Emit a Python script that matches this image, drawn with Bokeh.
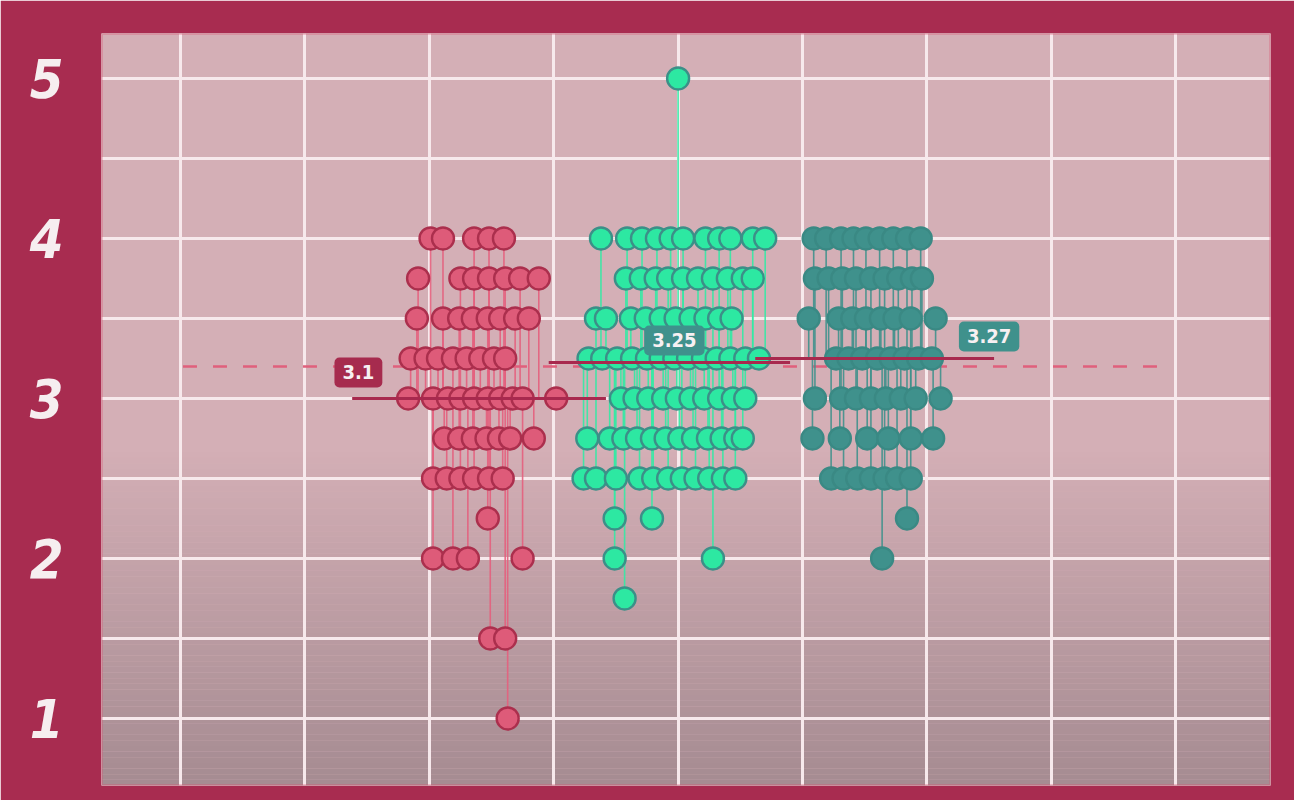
from bokeh.plotting import figure
from bokeh.models import FixedTicker, Label, BoxAnnotation
from bokeh.embed import file_html
from bokeh.resources import INLINE

# ratings per group: row value -> jittered x positions of the dots
red_rows = {
    4.0: [3.01, 3.11, 3.36, 3.48, 3.60],
    3.75: [2.91, 3.25, 3.36, 3.48, 3.61, 3.73, 3.88],
    3.5: [2.90, 3.11, 3.24, 3.35, 3.47, 3.57, 3.69, 3.80],
    3.25: [2.85, 2.97, 3.07, 3.19, 3.30, 3.41, 3.52, 3.61],
    3.0: [2.83, 3.03, 3.15, 3.25, 3.36, 3.47, 3.57, 3.67, 3.75, 4.02],
    2.75: [3.12, 3.24, 3.35, 3.46, 3.56, 3.65, 3.84],
    2.5: [3.03, 3.14, 3.25, 3.36, 3.48, 3.59],
    2.25: [3.47],
    2.0: [3.03, 3.19, 3.31, 3.75],
    1.5: [3.49, 3.61],
    1.0: [3.63],
}
green_rows = {
    5.0: [5.00],
    4.0: [4.38, 4.59, 4.71, 4.83, 4.94, 5.04, 5.22, 5.33, 5.42, 5.60, 5.70],
    3.75: [4.58, 4.70, 4.82, 4.92, 5.04, 5.16, 5.28, 5.40, 5.52, 5.60],
    3.5: [4.34, 4.42, 4.62, 4.74, 4.86, 4.98, 5.10, 5.22, 5.33, 5.43],
    3.25: [4.28, 4.39, 4.51, 4.63, 4.75, 4.86, 4.97, 5.08, 5.20, 5.31, 5.42, 5.54, 5.65],
    3.0: [4.54, 4.65, 4.76, 4.88, 4.99, 5.10, 5.21, 5.33, 5.44, 5.54],
    2.75: [4.27, 4.45, 4.56, 4.67, 4.79, 4.90, 5.01, 5.12, 5.24, 5.35, 5.46, 5.52],
    2.5: [4.24, 4.34, 4.50, 4.69, 4.80, 4.92, 5.03, 5.14, 5.25, 5.36, 5.46],
    2.25: [4.49, 4.79],
    2.0: [4.49, 5.28],
    1.75: [4.57],
}
teal_rows = {
    4.0: [6.09, 6.19, 6.31, 6.41, 6.51, 6.62, 6.73, 6.84, 6.95],
    3.75: [6.10, 6.21, 6.32, 6.43, 6.55, 6.66, 6.77, 6.88, 6.96],
    3.5: [6.05, 6.29, 6.40, 6.51, 6.63, 6.74, 6.87, 7.07],
    3.25: [6.27, 6.37, 6.48, 6.60, 6.71, 6.82, 6.93, 7.04],
    3.0: [6.10, 6.31, 6.43, 6.55, 6.67, 6.79, 6.91, 7.11],
    2.75: [6.08, 6.30, 6.52, 6.69, 6.87, 7.05],
    2.5: [6.23, 6.33, 6.44, 6.55, 6.66, 6.76, 6.87],
    2.25: [6.84],
    2.0: [6.64],
}

# group mean lines as drawn, and their labels
mean_y = [3.0, 3.225, 3.25]
mean_x0 = [2.38, 3.96, 5.62]
mean_x1 = [4.42, 5.90, 7.54]
mean_labels = ["3.1", "3.25", "3.27"]
label_x = [2.43, 4.97, 7.50]
overall_mean = 3.2

y_ticks = [1, 2, 3, 4, 5]

fills = ["#de5b79", "#2de8a2", "#3f918c"]
edges = ["#ab2f4d", "#3c8f88", "#3a8984"]
stems = ["#e45f7d", "#33eaa4", "#3f918c"]
label_bg = ["#a62b4e", "#3f918c", "#3f918c"]
label_dy = [26, 22, 22]

FONT = "DejaVu Sans Condensed"

p = figure(width=1294, height=800, x_range=(0.365, 9.762), y_range=(0.581, 5.281),
           output_backend="svg", toolbar_location=None,
           min_border_left=101, min_border_right=24, min_border_top=33, min_border_bottom=15)

p.border_fill_color = "#a82c50"
p.background_fill_color = "#d4afb6"
p.outline_line_color = None

# soft darkening towards the bottom of the panel
top_c = (0xd4, 0xaf, 0xb6)
bot_c = (0xa6, 0x8c, 0x92)
n_bands = 60
y_start, y_end = 2.7, 0.581
for i in range(n_bands):
    t = i / (n_bands - 1)
    c = tuple(int(top_c[k] + (bot_c[k] - top_c[k]) * t) for k in range(3))
    ya = y_start + (y_end - y_start) * i / n_bands
    yb = y_start + (y_end - y_start) * (i + 1) / n_bands
    p.quad(left=0.365, right=9.762, top=ya, bottom=yb, fill_color="#%02x%02x%02x" % c,
           line_color=None, level="underlay")

p.xaxis.visible = False
p.xgrid.ticker = FixedTicker(ticks=list(range(1, 10)))
p.ygrid.ticker = FixedTicker(ticks=[1 + 0.5 * i for i in range(9)])
for g in (p.xgrid, p.ygrid):
    g.grid_line_color = "#f7e9ec"
    g.grid_line_width = 3
    g.grid_line_alpha = 1.0

yax = p.yaxis[0]
yax.ticker = FixedTicker(ticks=y_ticks)
yax.axis_line_color = None
yax.major_tick_line_color = None
yax.minor_tick_line_color = None
yax.major_label_standoff = 32
yax.major_label_text_color = "#f6eef0"
yax.major_label_text_font = FONT
yax.major_label_text_font_style = "bold italic"
yax.major_label_text_font_size = "54px"

# overall mean, dashed
p.line([1.02, 8.92], [overall_mean, overall_mean], line_color="#e0607c", line_width=2.5,
       line_dash="14 16")

groups = [red_rows, green_rows, teal_rows]
for gi, rows in enumerate(groups):
    xs, ys = [], []
    for val, pos in rows.items():
        for x in pos:
            xs.append(x)
            ys.append(val)
    p.segment(x0=xs, y0=ys, x1=xs, y1=[mean_y[gi]] * len(xs), line_color=stems[gi],
              line_width=1.6, line_alpha=0.9)
    p.scatter(xs, ys, size=22, fill_color=fills[gi], line_color=edges[gi], line_width=2.4)

p.segment(x0=mean_x0, y0=mean_y, x1=mean_x1, y1=mean_y, line_color="#a8294e", line_width=3)

for i in range(3):
    p.add_layout(Label(x=label_x[i], y=mean_y[i], y_offset=label_dy[i], text=mean_labels[i],
                       text_align="center", text_baseline="middle",
                       text_color="#f7f0f2", text_font=FONT,
                       text_font_style="bold", text_font_size="20px",
                       background_fill_color=label_bg[i], padding=8, border_radius=5))

# frame outline drawn above the background bands
p.add_layout(BoxAnnotation(fill_alpha=0, line_color="#d9506e", line_width=3, level="overlay"))

open("out.html", "w").write(file_html(p, INLINE))
